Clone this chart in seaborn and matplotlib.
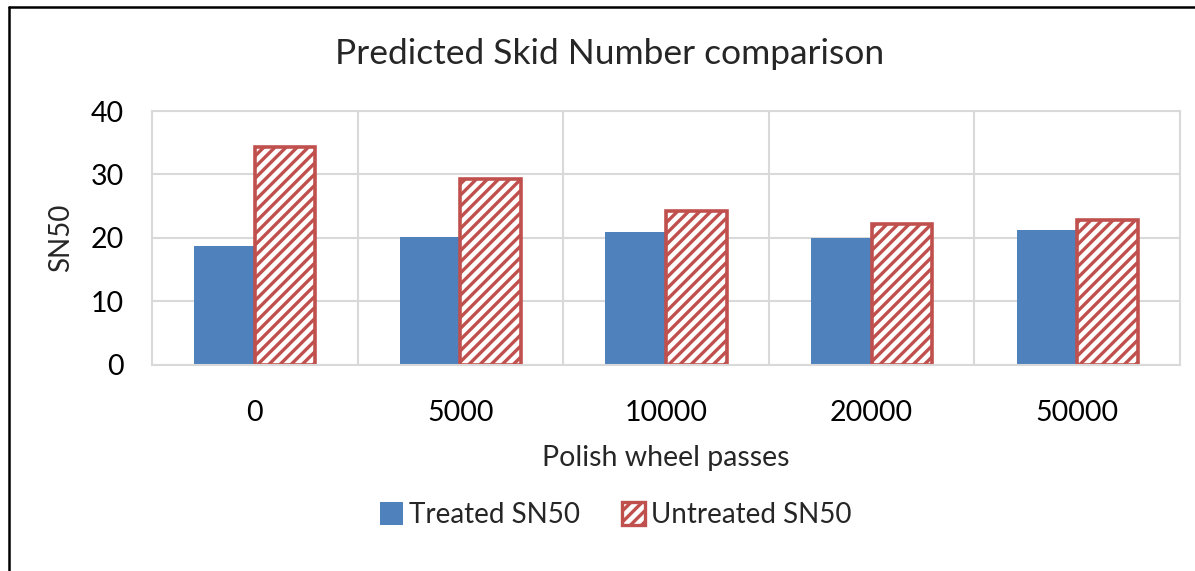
import matplotlib.pyplot as plt
import seaborn as sns
import pandas as pd
from matplotlib.lines import Line2D
from matplotlib.patches import Patch

passes = ['0', '5000', '10000', '20000', '50000']
treated = [18.8, 20.1, 21.0, 20.0, 21.2]
untreated = [34.4, 29.3, 24.2, 22.2, 22.9]
series = ['Treated SN50', 'Untreated SN50']

blue = '#4f81bd'
red = '#c0504d'
grid_col = '#d9d9d9'

sns.set_theme(style='white')
plt.rcParams['font.family'] = ['Lato', 'DejaVu Sans']
plt.rcParams['hatch.linewidth'] = 2.4
plt.rcParams['hatch.color'] = red

df = pd.DataFrame({
    'passes': passes * 2,
    'SN50': treated + untreated,
    'series': [series[0]] * len(passes) + [series[1]] * len(passes),
})

fig = plt.figure(figsize=(11.95, 5.71), dpi=100)
ax = fig.add_axes([0.1272, 0.3608, 0.8602, 0.4448])

sns.barplot(data=df, x='passes', y='SN50', hue='series', order=passes,
            hue_order=series, palette=[blue, red], width=0.59,
            saturation=1, ax=ax, legend=False)

n = len(passes)
for i, bar in enumerate(ax.patches[:2 * n]):
    if i < n:
        bar.set_facecolor(blue)
        bar.set_edgecolor('none')
        bar.set_linewidth(0)
    else:
        bar.set_facecolor('white')
        bar.set_edgecolor(red)
        bar.set_hatch('///')
        bar.set_linewidth(2.6)

ax.set_ylim(0, 40)
ax.set_xlim(-0.5, n - 0.5)
ax.set_yticks([0, 10, 20, 30, 40])
ax.set_xticks(range(n))
ax.set_xticks([i + 0.5 for i in range(n - 1)], minor=True)
ax.grid(axis='y', color=grid_col, linewidth=1.5)
ax.grid(axis='x', which='minor', color=grid_col, linewidth=1.5)
ax.set_axisbelow(True)
for s in ax.spines.values():
    s.set_visible(True)
    s.set_color(grid_col)
    s.set_linewidth(1.5)

ax.tick_params(axis='both', which='both', length=0, labelsize=20.5, colors='black')
ax.tick_params(axis='x', pad=25)
ax.tick_params(axis='y', pad=20)

ax.set_xlabel('Polish wheel passes', fontsize=20.5, labelpad=14)
ax.set_ylabel('SN50', fontsize=20, labelpad=12)
fig.suptitle('Predicted Skid Number comparison', fontsize=25.5, x=0.51, y=0.905,
             va='center')

handles = [Patch(facecolor=blue, edgecolor='none', label=series[0]),
           Patch(facecolor='white', edgecolor=red, hatch='///', linewidth=2.4,
                 label=series[1])]
fig.legend(handles=handles, loc='center', bbox_to_anchor=(0.515, 0.098), ncol=2,
           frameon=False, fontsize=20, handlelength=0.85, handleheight=0.85,
           handletextpad=0.2, columnspacing=1.5)

# outer chart border (left and top edges visible)
fig.add_artist(Line2D([9 / 1195, 9 / 1195], [0, 1 - 7 / 571], color='black',
                      linewidth=1.8, transform=fig.transFigure))
fig.add_artist(Line2D([9 / 1195, 1], [1 - 7 / 571, 1 - 7 / 571], color='black',
                      linewidth=1.8, transform=fig.transFigure))

fig.savefig('out.png', dpi=100)
